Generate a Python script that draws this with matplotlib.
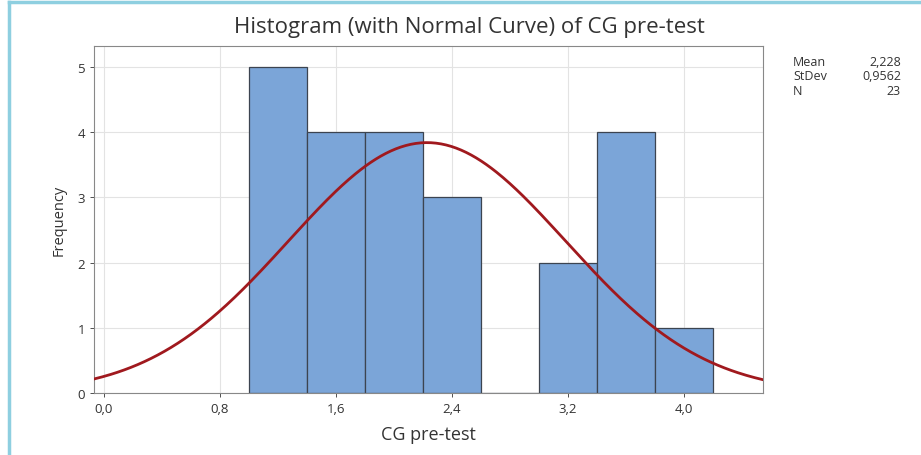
import numpy as np
import matplotlib
matplotlib.use("Agg")
import matplotlib.pyplot as plt
from matplotlib.lines import Line2D

plt.rcParams['font.family'] = ['Open Sans', 'DejaVu Sans']

bin_edges = [1.0, 1.4, 1.8, 2.2, 2.6, 3.0, 3.4, 3.8, 4.2]
counts = [5, 4, 4, 3, 0, 2, 4, 1]
mean = 2.228
stdev = 0.9562
n = 23
xticks = [0.0, 0.8, 1.6, 2.4, 3.2, 4.0]
xticklabels = ["0,0", "0,8", "1,6", "2,4", "3,2", "4,0"]
yticks = [0, 1, 2, 3, 4, 5]

fig = plt.figure(figsize=(9.21, 4.56), dpi=100)
ax = fig.add_axes([0.102, 0.136, 0.7264, 0.761])

ax.set_axisbelow(True)
ax.grid(True, color='#e3e3e3', linewidth=0.8)

widths = np.diff(bin_edges)
ax.bar(bin_edges[:-1], counts, width=widths, align='edge',
       color='#7ba5d8', edgecolor='#3c4450', linewidth=0.9, zorder=2)

xlim = (-0.069, 4.545)
xs = np.linspace(xlim[0], xlim[1], 400)
bw = 0.4
ys = n * bw / (stdev * np.sqrt(2 * np.pi)) * np.exp(-0.5 * ((xs - mean) / stdev) ** 2)
ax.plot(xs, ys, color='#a0191e', linewidth=2, zorder=3)

ax.set_xlim(*xlim)
ax.set_ylim(0, 5.32)
ax.set_xticks(xticks)
ax.set_xticklabels(xticklabels)
ax.set_yticks(yticks)
ax.tick_params(labelsize=9.5, colors='#333333', length=3, width=0.6)
for s in ax.spines.values():
    s.set_color('#888888')
    s.set_linewidth(0.8)

ax.set_xlabel("CG pre-test", fontsize=13, color='#333333', labelpad=7)
ax.set_ylabel("Frequency", fontsize=10.5, color='#333333', labelpad=8)
fig.text(0.51, 0.94, "Histogram (with Normal Curve) of CG pre-test",
         ha='center', va='center', fontsize=16, color='#333333')

labels = ["Mean", "StDev", "N"]
vals = ["2,228", "0,9562", "23"]
for i, (l, v) in enumerate(zip(labels, vals)):
    yy = 1 - (62 + i * 15) / 456
    fig.text(793 / 921, yy, l, ha='left', va='center', fontsize=9, color='#333333')
    fig.text(901 / 921, yy, v, ha='right', va='center', fontsize=9, color='#333333')

# light blue frame (left and top edges)
fig.add_artist(Line2D([9 / 921, 9 / 921], [0, 1 - 3 / 456], transform=fig.transFigure,
                      color='#8ecfe0', linewidth=2.5))
fig.add_artist(Line2D([9 / 921, 1], [1 - 3 / 456, 1 - 3 / 456], transform=fig.transFigure,
                      color='#8ecfe0', linewidth=2.5))

fig.savefig("out.png", dpi=100)
